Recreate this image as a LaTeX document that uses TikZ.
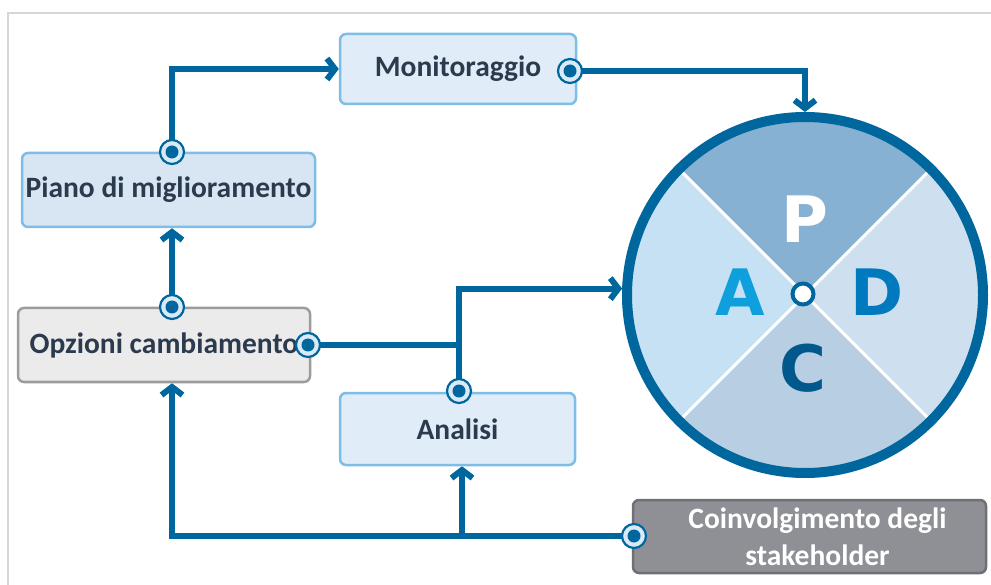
\documentclass[tikz,border=0pt]{standalone}
\usepackage{fontspec}
\setmainfont{Carlito}
\newfontfamily\pdcafont{DejaVu Sans}
\usetikzlibrary{arrows.meta,backgrounds}

\definecolor{cline}{HTML}{00669E}
\definecolor{txtdark}{HTML}{2B3A4C}
\definecolor{framegray}{HTML}{D6D6D6}
\definecolor{lbfill}{HTML}{E0EDF8}
\definecolor{lbfilldark}{HTML}{D8E6F3}
\definecolor{lbdraw}{HTML}{7DBDE6}
\definecolor{gfill}{HTML}{EBEBEB}
\definecolor{gdraw}{HTML}{9C9C9C}
\definecolor{dgfill}{HTML}{8E9095}
\definecolor{dgdraw}{HTML}{6F7075}
\definecolor{portfill}{HTML}{D9E9F6}
\definecolor{qP}{HTML}{87B1D2}
\definecolor{qA}{HTML}{C6E1F4}
\definecolor{qD}{HTML}{CEDFF0}
\definecolor{qC}{HTML}{B8CFE3}
\definecolor{letA}{HTML}{0EA0DC}
\definecolor{letD}{HTML}{0079BE}
\definecolor{letC}{HTML}{00588C}

\tikzset{
  boxtext/.style={font=\bfseries\fontsize{29.5}{37}\selectfont},
  lightbox/.style={boxtext, rectangle, rounded corners=6pt, draw=lbdraw, fill=lbfill,
    line width=2.5pt, text=txtdark, inner sep=0pt},
  greybox/.style={lightbox, draw=gdraw, fill=gfill},
  darkbox/.style={lightbox, draw=dgdraw, fill=dgfill, text=white, align=center},
  port/.style={circle, draw=cline, line width=2.2pt, fill=portfill, minimum size=24pt,
    inner sep=0pt, path picture={\fill[cline] (path picture bounding box.center) circle (6.5pt);}},
  conn/.style={draw=cline, line width=6pt},
  arr/.style={conn, -{Straight Barb[length=8pt,width=21pt]}},
  letter/.style={font=\pdcafont\bfseries\fontsize{64}{64}\selectfont, inner sep=0pt}
}

\begin{document}
\begin{tikzpicture}[x=1pt,y=-1pt]
\useasboundingbox (0,0) rectangle (991,585);

% thin page frame
\draw[framegray, line width=2pt] (8,585) -- (8,13) -- (991,13);

% boxes
\node[lightbox, minimum width=236pt, minimum height=70pt] (mon) at (458,69) {Monitoraggio};
\node[lightbox, fill=lbfilldark, minimum width=293pt, minimum height=74pt] (piano) at (168.5,190) {Piano di miglioramento};
\node[greybox, minimum width=292pt, minimum height=74pt] (opz) at (164,345) {Opzioni cambiamento};
\node[lightbox, minimum width=235pt, minimum height=72pt] (ana) at (457.5,429) {Analisi};
\node[darkbox, minimum width=353pt, minimum height=73pt] (coin) at (809.5,536.5) {\hspace*{16pt}Coinvolgimento degli\\\hspace*{16pt}stakeholder};

% PDCA wheel: four quadrants
\def\R{178}
\fill[qP] (805,295) -- ++(225:\R) arc[start angle=225, end angle=315, radius=\R] -- cycle;
\fill[qC] (805,295) -- ++(45:\R) arc[start angle=45, end angle=135, radius=\R] -- cycle;
\fill[qA] (805,295) -- ++(135:\R) arc[start angle=135, end angle=225, radius=\R] -- cycle;
\fill[qD] (805,295) -- ++(-45:\R) arc[start angle=-45, end angle=45, radius=\R] -- cycle;
\foreach \a in {45,135,225,315}
  \draw[white, line width=3pt] (805,295) -- ++(\a:\R);
\node[circle, draw=cline, line width=10pt, minimum size=356pt, inner sep=0pt] (pdca) at (805,295) {};
\node[circle, draw=cline, fill=white, line width=4pt, minimum size=21pt, inner sep=0pt] (hub) at (803,294) {};

\node[letter, text=white] (letP) at (805,219) {P};
\node[letter, text=letA] (letA) at (740,292) {A};
\node[letter, text=letD] (letD) at (877,292) {D};
\node[letter, text=letC] (letC) at (803,368) {C};

% connection ports
\node[port] (pPiano) at (172,152) {};
\node[port] (pMon) at (570,71) {};
\node[port] (pOpzT) at (172,307) {};
\node[port] (pOpzR) at (308,345) {};
\node[port] (pAna) at (459,391) {};
\node[port] (pCoin) at (634,536) {};

\coordinate (jOpz) at (pAna |- pOpzR);
\coordinate (jCoin) at (462,536);

% connectors
\begin{pgfonlayer}{background}
\draw[arr] (pPiano.center) |- (mon.west);
\draw[arr] (pMon.center) -| (pdca.north);
\draw[arr] (pOpzT.center) -- (pOpzT |- piano.south);
\draw[conn] (pOpzR.center) -- (jOpz);
\draw[arr] (pAna.center) |- (pdca.178);
\draw[arr] (pCoin.center) -| (pOpzT |- opz.south);
\draw[arr] (jCoin) -- (jCoin |- ana.south);
\end{pgfonlayer}
\end{tikzpicture}
\end{document}
